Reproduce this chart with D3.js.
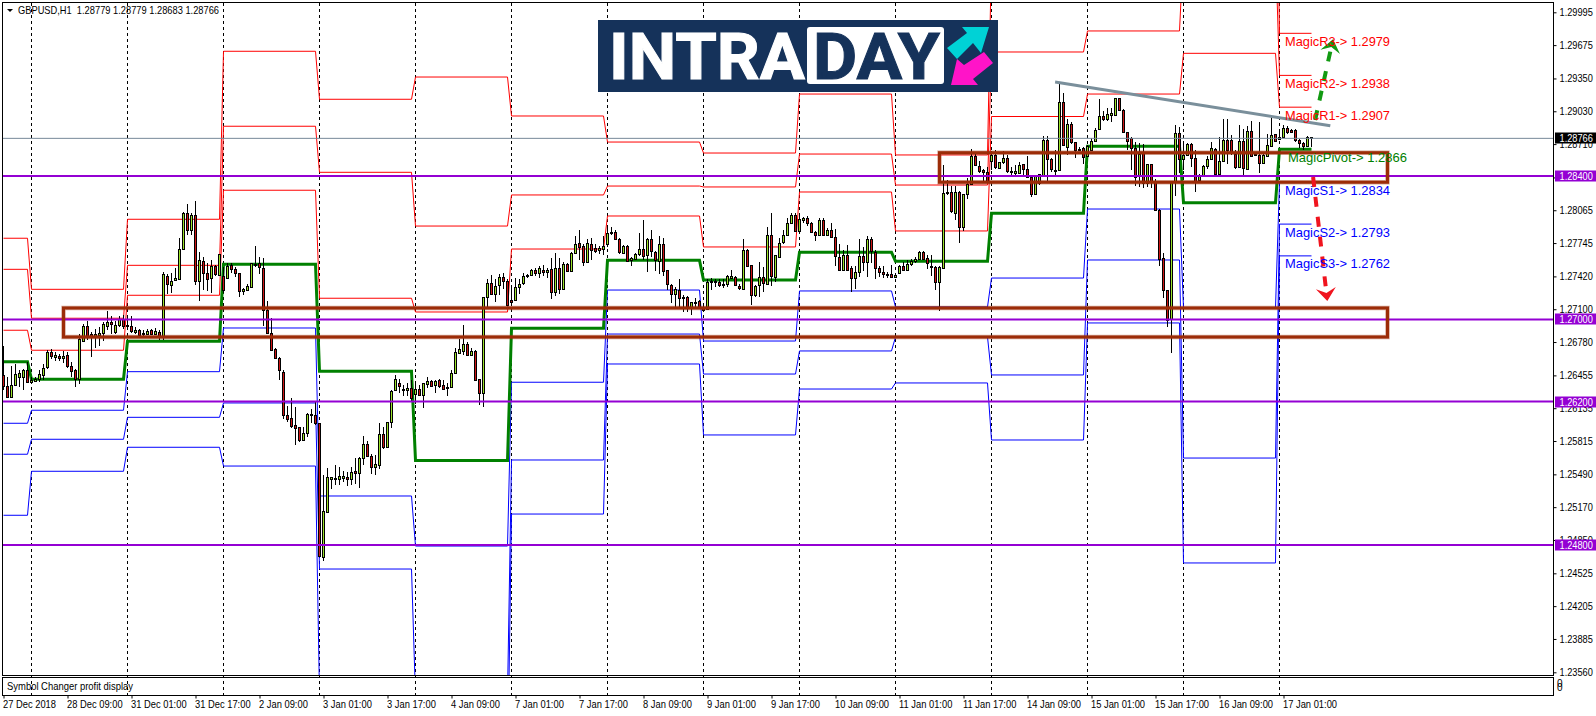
<!DOCTYPE html>
<html><head><meta charset="utf-8">
<script src="https://cdn.jsdelivr.net/npm/d3@7"></script>
<style>
html,body{margin:0;padding:0;background:#fff;overflow:hidden}
svg{display:block}
text{font-family:"Liberation Sans",Arial,sans-serif}
</style></head><body>
<script>
const opens=[1.2646,1.2635,1.2624,1.2636,1.2644,1.2644,1.2651,1.2639,1.2640,1.2642,
1.2646,1.2653,1.2668,1.2663,1.2664,1.2662,1.2665,1.2655,1.2651,1.2642,
1.2679,1.2694,1.2686,1.2684,1.2685,1.2687,1.2694,1.2698,1.2688,1.2694,
1.2700,1.2694,1.2694,1.2688,1.2690,1.2687,1.2686,1.2690,1.2686,1.2688,
1.2684,1.2742,1.2734,1.2738,1.2740,1.2769,1.2804,1.2787,1.2802,1.2738,
1.2757,1.2745,1.2740,1.2752,1.2744,1.2742,1.2740,1.2753,1.2749,1.2745,
1.2728,1.2729,1.2732,1.2753,1.2755,1.2750,1.2709,1.2687,1.2671,1.2662,
1.2649,1.2607,1.2604,1.2597,1.2595,1.2582,1.2589,1.2607,1.2607,1.2599,
1.2468,1.2512,1.2544,1.2545,1.2544,1.2545,1.2546,1.2544,1.2552,1.2550,
1.2565,1.2579,1.2567,1.2556,1.2558,1.2588,1.2576,1.2600,1.2631,1.2638,
1.2631,1.2631,1.2633,1.2627,1.2632,1.2626,1.2637,1.2640,1.2636,1.2641,
1.2636,1.2633,1.2634,1.2648,1.2667,1.2669,1.2676,1.2665,1.2669,1.2642,
1.2628,1.2722,1.2736,1.2725,1.2733,1.2741,1.2738,1.2719,1.2719,1.2732,
1.2735,1.2742,1.2743,1.2748,1.2745,1.2748,1.2746,1.2749,1.2727,1.2750,
1.2730,1.2754,1.2747,1.2765,1.2775,1.2772,1.2756,1.2774,1.2770,1.2768,
1.2769,1.2773,1.2784,1.2785,1.2778,1.2765,1.2772,1.2758,1.2759,1.2764,
1.2769,1.2762,1.2778,1.2766,1.2757,1.2774,1.2748,1.2734,1.2725,1.2729,
1.2722,1.2722,1.2712,1.2717,1.2718,1.2712,1.2711,1.2737,1.2737,1.2737,
1.2734,1.2734,1.2740,1.2741,1.2733,1.2730,1.2768,1.2753,1.2724,1.2733,
1.2741,1.2734,1.2782,1.2742,1.2761,1.2775,1.2782,1.2794,1.2802,1.2786,
1.2797,1.2799,1.2794,1.2785,1.2782,1.2797,1.2782,1.2787,1.2780,1.2761,
1.2748,1.2763,1.2750,1.2740,1.2746,1.2762,1.2756,1.2778,1.2766,1.2750,
1.2746,1.2744,1.2744,1.2741,1.2745,1.2752,1.2748,1.2754,1.2757,1.2759,
1.2766,1.2760,1.2752,1.2751,1.2736,1.2750,1.2823,1.2824,1.2804,1.2824,
1.2790,1.2822,1.2832,1.2859,1.2850,1.2846,1.2844,1.2854,1.2860,1.2848,
1.2853,1.2857,1.2845,1.2843,1.2843,1.2852,1.2847,1.2839,1.2822,1.2833,
1.2841,1.2875,1.2856,1.2846,1.2846,1.2912,1.2869,1.2891,1.2873,1.2865,
1.2867,1.2859,1.2865,1.2874,1.2885,1.2898,1.2895,1.2899,1.2899,1.2916,
1.2904,1.2883,1.2877,1.2867,1.2841,1.2862,1.2833,1.2852,1.2835,1.2807,
1.2760,1.2729,1.2700,1.2834,1.2882,1.2856,1.2860,1.2871,1.2857,1.2836,
1.2841,1.2849,1.2856,1.2866,1.2842,1.2855,1.2875,1.2875,1.2861,1.2849,
1.2874,1.2847,1.2884,1.2861,1.2860,1.2852,1.2859,1.2869,1.2881,1.2876,
1.2878,1.2887,1.2885,1.2885,1.2875,1.2872,1.2869,1.2878];
const highs=[1.2674,1.2644,1.2655,1.2657,1.2651,1.2652,1.2659,1.2644,1.2644,1.2651,
1.2657,1.2670,1.2671,1.2668,1.2666,1.2669,1.2668,1.2659,1.2652,1.2686,
1.2696,1.2699,1.2688,1.2691,1.2693,1.2698,1.2708,1.2703,1.2699,1.2703,
1.2704,1.2703,1.2703,1.2693,1.2691,1.2690,1.2691,1.2691,1.2692,1.2690,
1.2746,1.2744,1.2745,1.2750,1.2779,1.2805,1.2813,1.2804,1.2816,1.2766,
1.2761,1.2755,1.2758,1.2753,1.2764,1.2751,1.2755,1.2755,1.2751,1.2745,
1.2731,1.2735,1.2755,1.2772,1.2761,1.2760,1.2718,1.2701,1.2672,1.2663,
1.2651,1.2616,1.2623,1.2615,1.2595,1.2595,1.2609,1.2613,1.2621,1.2599,
1.2548,1.2555,1.2546,1.2558,1.2556,1.2552,1.2551,1.2556,1.2565,1.2566,
1.2586,1.2582,1.2569,1.2568,1.2599,1.2595,1.2600,1.2631,1.2646,1.2642,
1.2636,1.2638,1.2641,1.2638,1.2636,1.2638,1.2644,1.2641,1.2641,1.2642,
1.2641,1.2638,1.2651,1.2672,1.2681,1.2695,1.2678,1.2672,1.2670,1.2642,
1.2722,1.2739,1.2743,1.2739,1.2744,1.2745,1.2739,1.2732,1.2740,1.2739,
1.2745,1.2744,1.2749,1.2750,1.2752,1.2753,1.2750,1.2760,1.2765,1.2760,
1.2756,1.2755,1.2766,1.2781,1.2787,1.2774,1.2778,1.2779,1.2774,1.2772,
1.2781,1.2789,1.2790,1.2787,1.2779,1.2773,1.2773,1.2761,1.2765,1.2784,
1.2797,1.2779,1.2787,1.2767,1.2781,1.2779,1.2748,1.2735,1.2732,1.2739,
1.2724,1.2723,1.2717,1.2721,1.2719,1.2714,1.2739,1.2740,1.2739,1.2739,
1.2739,1.2743,1.2748,1.2742,1.2735,1.2778,1.2769,1.2753,1.2734,1.2756,
1.2751,1.2790,1.2804,1.2763,1.2779,1.2787,1.2799,1.2804,1.2804,1.2804,
1.2800,1.2801,1.2795,1.2786,1.2799,1.2799,1.2789,1.2794,1.2788,1.2774,
1.2768,1.2773,1.2752,1.2752,1.2778,1.2771,1.2781,1.2780,1.2768,1.2752,
1.2752,1.2746,1.2753,1.2745,1.2753,1.2756,1.2758,1.2759,1.2761,1.2767,
1.2767,1.2763,1.2763,1.2752,1.2752,1.2851,1.2836,1.2830,1.2830,1.2825,
1.2822,1.2838,1.2866,1.2862,1.2855,1.2847,1.2849,1.2864,1.2865,1.2854,
1.2864,1.2860,1.2849,1.2851,1.2854,1.2852,1.2859,1.2840,1.2841,1.2842,
1.2879,1.2879,1.2857,1.2865,1.2930,1.2921,1.2895,1.2893,1.2873,1.2868,
1.2868,1.2870,1.2877,1.2887,1.2915,1.2903,1.2906,1.2906,1.2916,1.2916,
1.2905,1.2883,1.2878,1.2873,1.2872,1.2871,1.2852,1.2852,1.2837,1.2808,
1.2765,1.2729,1.2834,1.2890,1.2888,1.2873,1.2872,1.2872,1.2865,1.2842,
1.2851,1.2859,1.2873,1.2867,1.2878,1.2895,1.2895,1.2880,1.2865,1.2890,
1.2886,1.2889,1.2894,1.2862,1.2893,1.2861,1.2881,1.2897,1.2881,1.2886,
1.2890,1.2889,1.2886,1.2886,1.2876,1.2873,1.2879,1.2878];
const lows=[1.2631,1.2623,1.2623,1.2635,1.2634,1.2631,1.2638,1.2637,1.2639,1.2639,
1.2641,1.2652,1.2661,1.2660,1.2660,1.2658,1.2653,1.2644,1.2634,1.2637,
1.2678,1.2680,1.2663,1.2672,1.2674,1.2679,1.2690,1.2686,1.2686,1.2693,
1.2691,1.2691,1.2687,1.2686,1.2684,1.2684,1.2685,1.2685,1.2685,1.2680,
1.2680,1.2725,1.2726,1.2738,1.2739,1.2769,1.2782,1.2782,1.2734,1.2718,
1.2729,1.2728,1.2726,1.2742,1.2742,1.2726,1.2739,1.2745,1.2741,1.2722,
1.2724,1.2728,1.2731,1.2751,1.2744,1.2694,1.2686,1.2670,1.2661,1.2641,
1.2603,1.2600,1.2594,1.2578,1.2581,1.2582,1.2585,1.2599,1.2597,1.2469,
1.2465,1.2511,1.2535,1.2539,1.2539,1.2542,1.2538,1.2539,1.2540,1.2536,
1.2558,1.2566,1.2549,1.2548,1.2554,1.2574,1.2575,1.2594,1.2630,1.2628,
1.2625,1.2625,1.2621,1.2618,1.2625,1.2614,1.2633,1.2634,1.2628,1.2633,
1.2631,1.2625,1.2633,1.2648,1.2666,1.2665,1.2665,1.2664,1.2641,1.2617,
1.2615,1.2711,1.2724,1.2717,1.2724,1.2730,1.2714,1.2714,1.2718,1.2725,
1.2734,1.2740,1.2742,1.2742,1.2740,1.2742,1.2740,1.2720,1.2723,1.2725,
1.2729,1.2747,1.2746,1.2764,1.2758,1.2752,1.2755,1.2758,1.2765,1.2764,
1.2763,1.2771,1.2782,1.2778,1.2764,1.2764,1.2757,1.2752,1.2758,1.2762,
1.2758,1.2746,1.2761,1.2747,1.2744,1.2742,1.2729,1.2716,1.2712,1.2712,
1.2707,1.2707,1.2704,1.2711,1.2711,1.2709,1.2711,1.2729,1.2732,1.2732,
1.2731,1.2732,1.2739,1.2733,1.2729,1.2729,1.2752,1.2714,1.2722,1.2722,
1.2727,1.2734,1.2733,1.2737,1.2761,1.2774,1.2781,1.2793,1.2785,1.2784,
1.2794,1.2791,1.2784,1.2777,1.2782,1.2782,1.2781,1.2779,1.2752,1.2748,
1.2747,1.2747,1.2727,1.2730,1.2741,1.2747,1.2741,1.2755,1.2739,1.2741,
1.2740,1.2740,1.2740,1.2740,1.2745,1.2747,1.2747,1.2752,1.2755,1.2758,
1.2758,1.2749,1.2742,1.2729,1.2708,1.2750,1.2821,1.2804,1.2797,1.2775,
1.2786,1.2817,1.2831,1.2850,1.2843,1.2835,1.2834,1.2846,1.2847,1.2847,
1.2852,1.2843,1.2840,1.2841,1.2842,1.2841,1.2838,1.2819,1.2821,1.2831,
1.2839,1.2833,1.2844,1.2839,1.2845,1.2869,1.2860,1.2871,1.2857,1.2864,
1.2852,1.2858,1.2864,1.2873,1.2885,1.2894,1.2894,1.2893,1.2899,1.2903,
1.2882,1.2865,1.2846,1.2830,1.2829,1.2828,1.2829,1.2828,1.2807,1.2752,
1.2721,1.2693,1.2667,1.2820,1.2843,1.2846,1.2859,1.2849,1.2824,1.2834,
1.2839,1.2847,1.2856,1.2841,1.2841,1.2855,1.2852,1.2860,1.2847,1.2848,
1.2839,1.2846,1.2859,1.2859,1.2843,1.2852,1.2859,1.2869,1.2873,1.2875,
1.2877,1.2881,1.2882,1.2873,1.2867,1.2865,1.2868,1.2868];
const closes=[1.2635,1.2624,1.2636,1.2647,1.2648,1.2651,1.2639,1.2641,1.2642,1.2647,
1.2653,1.2668,1.2664,1.2665,1.2662,1.2664,1.2654,1.2650,1.2642,1.2681,
1.2694,1.2683,1.2684,1.2686,1.2687,1.2696,1.2698,1.2696,1.2695,1.2700,
1.2693,1.2695,1.2689,1.2690,1.2685,1.2686,1.2689,1.2686,1.2689,1.2684,
1.2744,1.2734,1.2738,1.2740,1.2769,1.2804,1.2787,1.2802,1.2738,1.2758,
1.2745,1.2739,1.2752,1.2744,1.2764,1.2728,1.2752,1.2749,1.2745,1.2727,
1.2730,1.2733,1.2755,1.2754,1.2751,1.2709,1.2687,1.2670,1.2662,1.2650,
1.2607,1.2603,1.2596,1.2594,1.2582,1.2589,1.2608,1.2608,1.2599,1.2469,
1.2513,1.2546,1.2546,1.2544,1.2547,1.2547,1.2544,1.2551,1.2550,1.2565,
1.2579,1.2567,1.2556,1.2559,1.2588,1.2575,1.2600,1.2630,1.2642,1.2635,
1.2632,1.2633,1.2623,1.2632,1.2626,1.2638,1.2640,1.2635,1.2640,1.2635,
1.2632,1.2634,1.2648,1.2668,1.2671,1.2676,1.2665,1.2669,1.2641,1.2628,
1.2722,1.2736,1.2725,1.2733,1.2741,1.2737,1.2715,1.2717,1.2732,1.2735,
1.2742,1.2743,1.2748,1.2745,1.2750,1.2746,1.2748,1.2727,1.2750,1.2730,
1.2754,1.2747,1.2765,1.2774,1.2771,1.2756,1.2775,1.2768,1.2767,1.2770,
1.2772,1.2784,1.2785,1.2778,1.2765,1.2772,1.2757,1.2760,1.2764,1.2769,
1.2762,1.2778,1.2766,1.2758,1.2774,1.2748,1.2734,1.2725,1.2730,1.2721,
1.2721,1.2712,1.2717,1.2716,1.2712,1.2709,1.2737,1.2738,1.2738,1.2734,
1.2735,1.2742,1.2742,1.2733,1.2731,1.2768,1.2752,1.2724,1.2733,1.2741,
1.2735,1.2782,1.2742,1.2763,1.2775,1.2782,1.2794,1.2802,1.2786,1.2798,
1.2799,1.2794,1.2785,1.2782,1.2797,1.2782,1.2787,1.2780,1.2761,1.2748,
1.2763,1.2748,1.2740,1.2746,1.2762,1.2756,1.2778,1.2766,1.2750,1.2746,
1.2744,1.2743,1.2741,1.2743,1.2752,1.2748,1.2754,1.2757,1.2759,1.2766,
1.2759,1.2755,1.2751,1.2736,1.2751,1.2823,1.2824,1.2805,1.2824,1.2790,
1.2822,1.2832,1.2859,1.2850,1.2845,1.2844,1.2835,1.2860,1.2848,1.2854,
1.2857,1.2844,1.2844,1.2845,1.2851,1.2847,1.2839,1.2822,1.2840,1.2842,
1.2875,1.2856,1.2846,1.2845,1.2912,1.2870,1.2891,1.2873,1.2865,1.2866,
1.2858,1.2869,1.2874,1.2885,1.2898,1.2895,1.2900,1.2901,1.2916,1.2904,
1.2883,1.2874,1.2867,1.2839,1.2861,1.2833,1.2852,1.2834,1.2807,1.2759,
1.2729,1.2700,1.2834,1.2882,1.2857,1.2860,1.2871,1.2857,1.2834,1.2841,
1.2850,1.2856,1.2867,1.2842,1.2855,1.2875,1.2865,1.2862,1.2848,1.2874,
1.2848,1.2884,1.2860,1.2860,1.2852,1.2860,1.2870,1.2880,1.2874,1.2878,
1.2887,1.2883,1.2883,1.2875,1.2872,1.2869,1.2878,1.2877];

// Daily pivot levels, one value per session (first bar of each session in dayStarts)
const dayStarts=[0,7,31,55,79,103,127,151,175,199,223,247,271,295,319];
const pivotLevels=[1.26588,1.26417,1.26787,1.27538,1.26495,1.25625,1.26914,1.27577,1.27385,1.27655,1.27567,1.28035,1.28689,1.28139,1.2866];
const r1Levels=[1.26895,1.26700,1.27236,1.28260,1.27207,1.27073,1.27687,1.28009,1.27707,1.28243,1.27863,1.28979,1.29198,1.29595,1.2907];
const r2Levels=[1.27489,1.27012,1.27528,1.28884,1.28435,1.27911,1.28214,1.28301,1.28292,1.28613,1.28311,1.29608,1.29813,1.30622,1.2938];
const r3Levels=[1.27792,1.27294,1.27977,1.29615,1.29147,1.29364,1.28984,1.28730,1.28623,1.29198,1.28604,1.30554,1.30320,1.32085,1.2979];
const s1Levels=[1.25988,1.26115,1.26491,1.26917,1.25279,1.24791,1.26388,1.27287,1.26790,1.27278,1.27122,1.27404,1.28077,1.27112,1.2834];
const s2Levels=[1.25686,1.25832,1.26046,1.26186,1.24567,1.23329,1.25630,1.26858,1.26468,1.26693,1.26829,1.26459,1.27580,1.25649,1.2793];
const s3Levels=[1.25091,1.25520,1.25754,1.25571,1.23348,1.22490,1.25103,1.26566,1.25874,1.26322,1.26381,1.25825,1.26966,1.24626,1.2762];

const priceTicks=[1.29995,1.29675,1.29350,1.29030,1.28710,1.28385,1.28065,1.27745,1.27420,1.27100,1.26780,1.26455,1.26135,1.25815,1.25490,1.25170,1.24850,1.24525,1.24205,1.23885,1.23560];
const timeLabels=["27 Dec 2018","28 Dec 09:00","31 Dec 01:00","31 Dec 17:00","2 Jan 09:00","3 Jan 01:00","3 Jan 17:00","4 Jan 09:00","7 Jan 01:00","7 Jan 17:00","8 Jan 09:00","9 Jan 01:00","9 Jan 17:00","10 Jan 09:00","11 Jan 01:00","11 Jan 17:00","14 Jan 09:00","15 Jan 01:00","15 Jan 17:00","16 Jan 09:00","17 Jan 01:00"];
const hLevels=[1.284,1.27,1.262,1.248];
const lastPrice=1.28766;
const zoneBoxes=[{b1:346,top:1.28626,bottom:1.28338,b0:234},{b1:346,top:1.27112,bottom:1.26829,b0:15}];
const trendBars=[262.9,331.7], trendPrices=[1.29315,1.28889];
const upArrowBars=[327.9,331.9], upArrowPrices=[1.28945,1.29647];
const downArrowBars=[327.4,330.7], downArrowPrices=[1.28389,1.27268];
const levelLabels=[
 ["MagicR3-> 1.2979",1.2979,"#ff0000"],["MagicR2-> 1.2938",1.2938,"#ff0000"],["MagicR1-> 1.2907",1.2907,"#ff0000"],
 ["MagicPivot-> 1.2866",1.2866,"#008000"],["MagicS1-> 1.2834",1.2834,"#0000ff"],["MagicS2-> 1.2793",1.2793,"#0000ff"],["MagicS3-> 1.2762",1.2762,"#0000ff"]];

const W=1596,H=716,plotRight=1553.5,mainBottom=675.5,plotTop=2.5,subTop=677.5,subBottom=695.5,plotLeft=2.5;
const x=d3.scaleLinear().domain([0,327]).range([3.5,1311.5]);
const y=d3.scaleLinear().domain([1.2356,1.29995]).range([672.3,12.3]);
const svg=d3.select("body").append("svg").attr("width",W).attr("height",H);
svg.append("defs").append("clipPath").attr("id","c").append("rect").attr("x",plotLeft).attr("y",plotTop).attr("width",plotRight-plotLeft).attr("height",mainBottom-plotTop);

// grid
const gridBars=d3.range(7,343,24);
svg.append("g").selectAll("line").data(gridBars).join("line")
 .attr("x1",d=>x(d)).attr("x2",d=>x(d)).attr("y1",plotTop).attr("y2",subBottom)
 .attr("stroke","#000").attr("stroke-dasharray","3,3").attr("shape-rendering","crispEdges");

const plot=svg.append("g").attr("clip-path","url(#c)");
// session level step lines
const levelLine=d3.line().x(d=>x(d[0])).y(d=>y(d[1]));
function steps(levels){
  const pts=[];
  levels.forEach((v,k)=>{
    const start=dayStarts[k], end=k+1<dayStarts.length?dayStarts[k+1]-1:327;
    pts.push([start,v],[end,v]);
  });
  return pts;
}
[[r3Levels,"#ff0000",1],[r2Levels,"#ff0000",1],[r1Levels,"#ff0000",1],
 [s1Levels,"#0000ff",1],[s2Levels,"#0000ff",1],[s3Levels,"#0000ff",1],
 [pivotLevels,"#008000",3]].forEach(([lv,c,w])=>{
  plot.append("path").attr("d",levelLine(steps(lv))).attr("fill","none").attr("stroke",c).attr("stroke-width",w);
});

// candles
const bars=d3.range(opens.length);
const cg=plot.append("g").attr("shape-rendering","crispEdges");
cg.selectAll("line").data(bars).join("line")
 .attr("x1",i=>x(i)).attr("x2",i=>x(i)).attr("y1",i=>y(highs[i])).attr("y2",i=>y(lows[i])).attr("stroke","#000");
cg.selectAll("rect").data(bars).join("rect")
 .attr("x",i=>x(i)-1).attr("width",2)
 .attr("y",i=>Math.round(y(Math.max(opens[i],closes[i])))+.5)
 .attr("height",i=>Math.max(1,Math.round(Math.abs(y(opens[i])-y(closes[i])))))
 .attr("fill",i=>closes[i]>=opens[i]?"#9be22a":"#cc1515").attr("stroke","#000");

// price line
plot.append("line").attr("x1",plotLeft).attr("x2",plotRight).attr("y1",y(lastPrice)).attr("y2",y(lastPrice)).attr("stroke","#778899");
// horizontal levels
plot.selectAll(".hl").data(hLevels).join("line").attr("class","hl")
 .attr("x1",plotLeft).attr("x2",plotRight).attr("y1",d=>y(d)).attr("y2",d=>y(d)).attr("stroke","#9400d3").attr("stroke-width",2);
// zones
zoneBoxes.forEach(z=>{
  [[4.5,.4],[3,1]].forEach(([w,o])=>{
    plot.append("rect").attr("x",x(z.b0)).attr("y",y(z.top)).attr("width",x(z.b1)-x(z.b0)).attr("height",y(z.bottom)-y(z.top))
     .attr("fill","none").attr("stroke","#9c2c08").attr("stroke-width",w).attr("stroke-opacity",o);
  });
});
// trend line
plot.append("line").attr("x1",x(trendBars[0])).attr("y1",y(trendPrices[0])).attr("x2",x(trendBars[1])).attr("y2",y(trendPrices[1]))
 .attr("stroke","#7a8f9b").attr("stroke-width",3);
// arrows
function arrow(bs,ps,c){
  const a=[x(bs[0]),y(ps[0])],b=[x(bs[1]),y(ps[1])];
  plot.append("line").attr("x1",a[0]).attr("y1",a[1]).attr("x2",b[0]).attr("y2",b[1]).attr("stroke",c).attr("stroke-width",4).attr("stroke-dasharray","10,10");
  const ang=Math.atan2(b[1]-a[1],b[0]-a[0]);
  const P=(d,s)=>[b[0]+Math.cos(ang)*d-Math.sin(ang)*s,b[1]+Math.sin(ang)*d+Math.cos(ang)*s];
  plot.append("path").attr("d",d3.line()([P(9,0),P(-4,10),P(1,0),P(-4,-10)])+"Z").attr("fill",c);
}
arrow(upArrowBars,upArrowPrices,"#129a12");
arrow(downArrowBars,downArrowPrices,"#f0141e");

// level labels
svg.append("g").selectAll("text").data(levelLabels).join("text")
 .attr("x",d=>d[0].startsWith("MagicPivot")?1288:1285)
 .attr("y",d=>y(d[1])+12.5)
 .attr("fill",d=>d[2]).attr("font-size",13).attr("textLength",d=>d[0].startsWith("MagicPivot")?119:105).attr("lengthAdjust","spacingAndGlyphs").text(d=>d[0]);

// logo
const logo=svg.append("g");
logo.append("rect").attr("x",598).attr("y",20).attr("width",400).attr("height",72).attr("fill","#15325a");
logo.append("rect").attr("x",807).attr("y",27).attr("width",137).attr("height",57).attr("rx",3).attr("fill","#fff");
logo.append("text").attr("x",609).attr("y",79).attr("font-size",64).attr("font-weight",700).attr("fill","#fff").attr("stroke","#fff").attr("stroke-width",1)
 .attr("style","font-family:Roboto,sans-serif").attr("textLength",196).attr("lengthAdjust","spacingAndGlyphs").text("INTRA");
logo.append("text").attr("x",813).attr("y",79).attr("font-size",64).attr("font-weight",700).attr("fill","#15325a").attr("stroke","#15325a").attr("stroke-width",1)
 .attr("style","font-family:Roboto,sans-serif").attr("textLength",127).attr("lengthAdjust","spacingAndGlyphs").text("DAY");
logo.append("polygon").attr("points","962,27 989,27 981,53 973,43 957,59 947,48 967,33").attr("fill","#00d2d6");
logo.append("polygon").attr("points","984,52 993,63 973,79 978,85 951,85 957,59 964,65").attr("fill","#ff14c8");

// axes
const yAxis=d3.axisRight(y).tickValues(priceTicks).tickFormat(d3.format(".5f")).tickSize(3).tickPadding(2);
const ya=svg.append("g").attr("transform",`translate(${plotRight},0)`).call(yAxis);
ya.select(".domain").remove();
ya.selectAll("text").attr("font-size",10.5).attr("fill","#000").attr("font-family","Liberation Sans").attr("x",0).attr("transform","translate(6,0) scale(.88,1)");
const timeBars=timeLabels.map((_,k)=>k*16);
const xAxis=d3.axisBottom(x).tickValues(timeBars).tickFormat((_,k)=>timeLabels[k]).tickSize(3).tickPadding(3);
const xa=svg.append("g").attr("transform",`translate(0,${subBottom})`).call(xAxis);
xa.select(".domain").remove();
xa.selectAll("text").attr("font-size",10.5).attr("fill","#000").attr("font-family","Liberation Sans").attr("text-anchor","start").attr("dx",-1).attr("y",5);
xa.selectAll("text").each(function(){const n=this.getComputedTextLength();d3.select(this).attr("textLength",n*.89).attr("lengthAdjust","spacingAndGlyphs");});

// tags
function tag(p,bg){
  svg.append("rect").attr("x",1555).attr("y",Math.round(y(p))-5.5).attr("width",41).attr("height",11).attr("fill",bg);
  svg.append("text").attr("fill","#fff").attr("font-size",10.5).attr("transform",`translate(1559.5,${y(p)+4}) scale(.88,1)`).text(d3.format(".5f")(p));
}
hLevels.forEach(p=>tag(p,"#9400d3"));
tag(lastPrice,"#000");

// frames
const frame=(x0,y0,x1,y1)=>svg.append("rect").attr("x",x0).attr("y",y0).attr("width",x1-x0).attr("height",y1-y0).attr("fill","none").attr("stroke","#000").attr("shape-rendering","crispEdges");
frame(plotLeft,plotTop,plotRight,mainBottom);
frame(plotLeft,subTop,plotRight,subBottom);

// header
svg.append("path").attr("d",d3.line()([[7,9],[13,9],[10,12]])+"Z").attr("fill","#000");
svg.append("text").attr("x",18).attr("y",14).attr("font-size",10.5).attr("fill","#000").attr("textLength",201).attr("lengthAdjust","spacingAndGlyphs").attr("xml:space","preserve").text("GBPUSD,H1  1.28779 1.28779 1.28683 1.28766");
svg.append("text").attr("x",7).attr("y",690).attr("font-size",10.5).attr("fill","#000").attr("textLength",126).attr("lengthAdjust","spacingAndGlyphs").text("Symbol Changer profit display");
svg.append("text").attr("x",1557).attr("y",687).attr("font-size",10).attr("fill","#000").text("0");
svg.append("text").attr("x",1557).attr("y",691).attr("font-size",10).attr("fill","#000").text("0");
</script>
</body></html>
